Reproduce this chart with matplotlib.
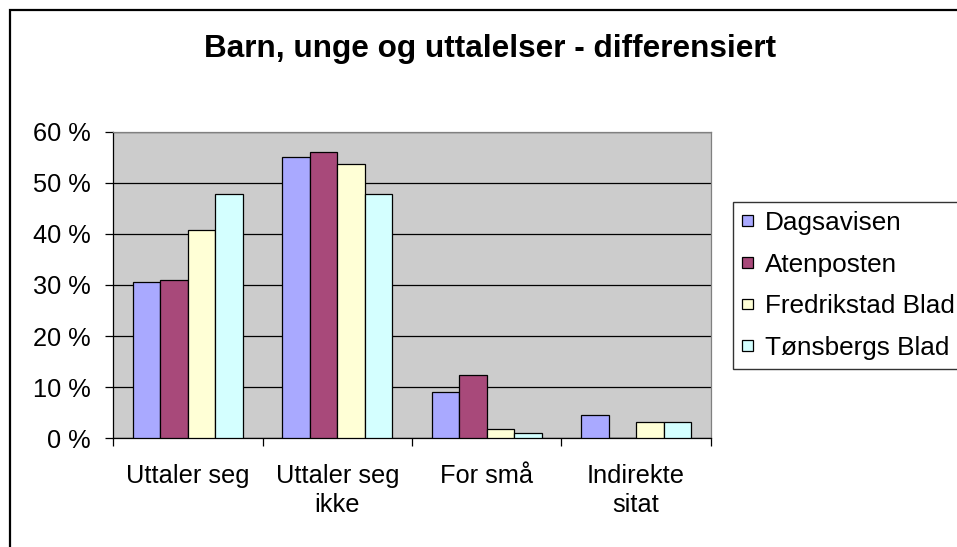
import matplotlib
matplotlib.use("Agg")
import matplotlib.pyplot as plt
import numpy as np
from matplotlib.patches import Rectangle
from matplotlib.ticker import FixedLocator

categories = ["Uttaler seg", "Uttaler seg\nikke", "For små", "Indirekte\nsitat"]
series_names = ["Dagsavisen", "Atenposten", "Fredrikstad Blad", "Tønsbergs Blad"]
dagsavisen = [30.6, 55.0, 9.1, 4.6]
atenposten = [31.0, 56.0, 12.3, 0.0]
fredrikstad = [40.7, 53.6, 1.9, 3.1]
tonsbergs = [47.8, 47.8, 1.1, 3.1]
yticks = [0, 10, 20, 30, 40, 50, 60]
ytick_labels = ["0 %", "10 %", "20 %", "30 %", "40 %", "50 %", "60 %"]
colors = ["#A9A9FF", "#A8497A", "#FFFFD6", "#D4FFFF"]
title = "Barn, unge og uttalelser - differensiert"

plt.rcParams['font.family'] = ['Liberation Sans', 'DejaVu Sans']

W, H = 957, 547
fig = plt.figure(figsize=(W / 100, H / 100), dpi=100)

def fx(px):
    return px / W

def fy(py):
    return 1 - py / H

# outer border
fig.patches.append(Rectangle((fx(10), fy(600)), 1.2, fy(10) - fy(600),
                             transform=fig.transFigure, fill=False,
                             edgecolor="black", linewidth=1.6, zorder=0))

left, right, top, bottom = 113.3, 710.7, 131.5, 438.3
ax = fig.add_axes([fx(left), fy(bottom), fx(right - left), (bottom - top) / H])
ax.set_facecolor("#CCCCCC")

series = [dagsavisen, atenposten, fredrikstad, tonsbergs]
n = len(series)
x = np.arange(len(categories))
bw = 0.184
for i, (vals, name, c) in enumerate(zip(series, series_names, colors)):
    ax.bar(x + (i - (n - 1) / 2) * bw, vals, width=bw, color=c,
           edgecolor="black", linewidth=0.9, label=name, zorder=3)

ax.set_xlim(-0.5, len(categories) - 0.5)
ax.set_ylim(0, 60)
ax.set_yticks(yticks)
ax.set_yticklabels(ytick_labels, fontsize=18.3)
ax.yaxis.grid(True, color="black", linewidth=0.9, zorder=1)
ax.set_axisbelow(True)

ax.set_xticks(x)
ax.set_xticklabels(categories, fontsize=18.3, linespacing=1.27)
ax.xaxis.set_minor_locator(FixedLocator(np.arange(len(categories) + 1) - 0.5))
ax.tick_params(axis="x", which="major", length=0, pad=18.5)
ax.tick_params(axis="x", which="minor", length=5.5, width=0.9, color="black", direction="out")
ax.tick_params(axis="y", length=5.5, width=0.9, color="black", direction="out", pad=11)

for s in ["left", "bottom"]:
    ax.spines[s].set_color("black")
    ax.spines[s].set_linewidth(0.9)
for s in ["top", "right"]:
    ax.spines[s].set_color("#808080")
    ax.spines[s].set_linewidth(0.9)

fig.text(fx(490), fy(57), title, fontsize=22.7, fontweight="bold",
         ha="center", va="baseline")

leg = fig.legend(loc="upper left", bbox_to_anchor=(fx(733), fy(202)),
                 bbox_transform=fig.transFigure, borderaxespad=0,
                 fontsize=18.8, frameon=True, fancybox=False, shadow=False,
                 handlelength=0.42, handleheight=0.26, handletextpad=0.45,
                 labelspacing=0.68, borderpad=0.34)
leg.get_frame().set_edgecolor("black")
leg.get_frame().set_linewidth(1.0)

fig.savefig("out.png", dpi=100)
